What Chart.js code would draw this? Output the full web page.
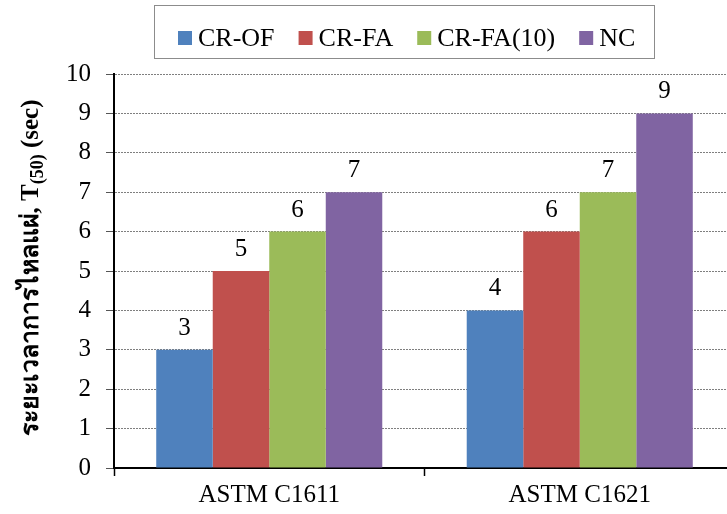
<!DOCTYPE html>
<html>
<head>
<meta charset="utf-8">
<script src="https://cdn.jsdelivr.net/npm/chart.js@4/dist/chart.umd.min.js"></script>
<style>
  html, body { margin: 0; padding: 0; background: #fff; overflow: hidden; }
  #wrap { width: 727px; height: 514px; overflow: hidden; position: relative; }
  canvas { display: block; }
</style>
</head>
<body>
<div id="wrap"><canvas id="c" width="745" height="514"></canvas></div>
<script>
// Flow time T(50) for each test method and mix
const categories = ['ASTM C1611', 'ASTM C1621'];
const seriesNames = ['CR-OF', 'CR-FA', 'CR-FA(10)', 'NC'];
const crOF = [3, 4];
const crFA = [5, 6];
const crFA10 = [6, 7];
const nc = [7, 9];
const yTicks = [0, 1, 2, 3, 4, 5, 6, 7, 8, 9, 10];
const seriesColors = ['#4F81BD', '#C0504D', '#9BBB59', '#8064A2'];

const SERIF = '"Liberation Serif", "Times New Roman", serif';

const seriesValues = [crOF, crFA, crFA10, nc];
const datasets = seriesNames.map((name, i) => ({
  label: name,
  data: seriesValues[i],
  backgroundColor: seriesColors[i],
  borderWidth: 0,
  barPercentage: 1.0,
  categoryPercentage: 0.728
}));

// Value labels above each bar
const valueLabels = {
  id: 'valueLabels',
  afterDatasetsDraw(chart) {
    const ctx = chart.ctx;
    ctx.save();
    ctx.font = '25px ' + SERIF;
    ctx.fillStyle = '#000';
    ctx.textAlign = 'center';
    ctx.textBaseline = 'alphabetic';
    chart.data.datasets.forEach((ds, di) => {
      chart.getDatasetMeta(di).data.forEach((bar, i) => {
        ctx.fillText(String(ds.data[i]), bar.x, bar.y - 15);
      });
    });
    ctx.restore();
  }
};

// Boxed legend row across the top
const boxLegend = {
  id: 'boxLegend',
  afterDraw(chart) {
    const ctx = chart.ctx;
    ctx.save();
    ctx.strokeStyle = '#8c8c8c';
    ctx.lineWidth = 1;
    ctx.strokeRect(154.5, 5.5, 500, 53);
    ctx.font = '26px ' + SERIF;
    ctx.textBaseline = 'middle';
    ctx.textAlign = 'left';
    let x = 178;
    const y = 38;
    chart.data.datasets.forEach((ds) => {
      ctx.fillStyle = ds.backgroundColor;
      ctx.fillRect(x, y - 7, 14, 14);
      ctx.fillStyle = '#000';
      ctx.fillText(ds.label, x + 20, y + 1);
      x += 20 + ctx.measureText(ds.label).width + 24;
    });
    ctx.restore();
  }
};

// Rotated y-axis title with subscript
const yTitle = {
  id: 'yTitle',
  afterDraw(chart) {
    const ctx = chart.ctx;
    const main = 'bold 25px ' + SERIF;
    const sub = 'bold 18px ' + SERIF;
    const parts = [
      { t: 'ระยะเวลาการไหลแผ่, T', f: main, dy: 0 },
      { t: '(50)', f: sub, dy: 6 },
      { t: ' (sec)', f: main, dy: 0 }
    ];
    ctx.save();
    let total = 0;
    parts.forEach(p => { ctx.font = p.f; p.w = ctx.measureText(p.t).width; total += p.w; });
    ctx.translate(32, 268);
    ctx.rotate(-Math.PI / 2);
    ctx.fillStyle = '#000';
    ctx.textBaseline = 'middle';
    ctx.textAlign = 'left';
    let x = -total / 2;
    parts.forEach(p => {
      ctx.font = p.f;
      ctx.fillText(p.t, x, p.dy);
      x += p.w;
    });
    ctx.restore();
  }
};

new Chart(document.getElementById('c'), {
  type: 'bar',
  data: { labels: categories, datasets },
  options: {
    responsive: false,
    animation: false,
    events: [],
    layout: { padding: { top: 74, right: 10, left: 0, bottom: 0 } },
    plugins: {
      legend: { display: false },
      title: { display: false },
      tooltip: { enabled: false }
    },
    scales: {
      x: {
        afterFit(scale) { scale.height = 46; },
        grid: {
          offset: true,
          drawOnChartArea: false,
          drawTicks: true,
          tickLength: 8,
          tickColor: '#000',
          tickWidth: 1.5
        },
        border: { display: true, color: '#000', width: 2 },
        ticks: {
          color: '#000',
          font: { family: SERIF, size: 25 },
          padding: 4
        }
      },
      y: {
        min: 0,
        max: 10,
        afterFit(scale) { scale.width = 114; },
        afterBuildTicks(scale) { scale.ticks = yTicks.map(v => ({ value: v })); },
        grid: {
          color: (c) => (c.tick && c.tick.value === 0) ? 'rgba(0,0,0,0)' : '#7f7f7f',
          lineWidth: 1,
          drawTicks: true,
          tickLength: 8,
          tickColor: '#555',
          tickWidth: 1
        },
        border: { display: true, color: '#000', width: 2, dash: [2, 1] },
        ticks: {
          color: '#000',
          font: { family: SERIF, size: 25 },
          padding: 15,
          stepSize: 1
        }
      }
    }
  },
  plugins: [valueLabels, boxLegend, yTitle]
});
</script>
</body>
</html>
